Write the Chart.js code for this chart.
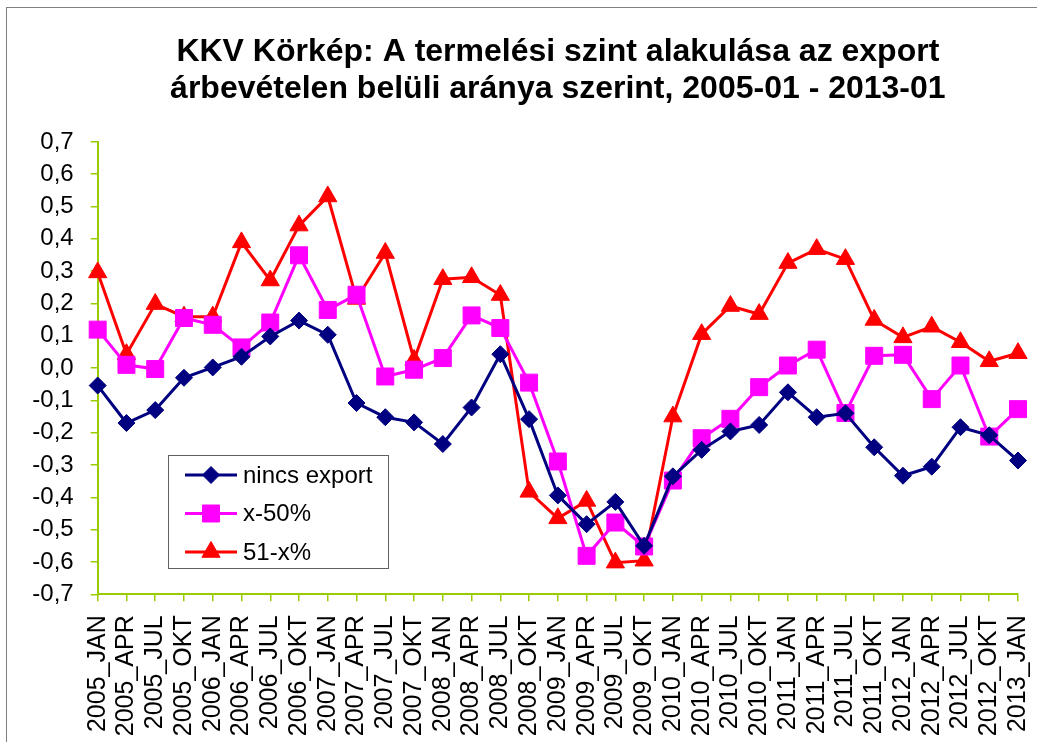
<!DOCTYPE html>
<html>
<head>
<meta charset="utf-8">
<script src="https://cdn.jsdelivr.net/npm/chart.js@4/dist/chart.umd.min.js"></script>
<style>
    html, body { margin: 0; padding: 0; background: #fff; }
    #wrap { position: relative; width: 1037px; height: 742px; }
</style>
</head>
<body>
<div id="wrap"><canvas id="kkvChart" width="1037" height="742"></canvas></div>
<script>
const categories = [
    '2005_JAN', '2005_APR', '2005_JUL', '2005_OKT',
    '2006_JAN', '2006_APR', '2006_JUL', '2006_OKT',
    '2007_JAN', '2007_APR', '2007_JUL', '2007_OKT',
    '2008_JAN', '2008_APR', '2008_JUL', '2008_OKT',
    '2009_JAN', '2009_APR', '2009_JUL', '2009_OKT',
    '2010_JAN', '2010_APR', '2010_JUL', '2010_OKT',
    '2011_JAN', '2011_APR', '2011_JUL', '2011_OKT',
    '2012_JAN', '2012_APR', '2012_JUL', '2012_OKT',
    '2013_JAN'
];

const ninccsExport = [
    -0.054, -0.170, -0.130, -0.030, 0.002, 0.035, 0.098, 0.147,
    0.103, -0.108, -0.152, -0.168, -0.235, -0.122, 0.043, -0.158,
    -0.394, -0.483, -0.414, -0.550, -0.335, -0.253, -0.196, -0.176,
    -0.075, -0.152, -0.140, -0.245, -0.333, -0.305, -0.183, -0.208,
    -0.286
];

const upTo50 = [
    0.119, 0.010, -0.003, 0.155, 0.134, 0.064, 0.141, 0.349,
    0.180, 0.227, -0.026, -0.005, 0.031, 0.163, 0.124, -0.045,
    -0.289, -0.581, -0.478, -0.552, -0.348, -0.217, -0.157, -0.059,
    0.008, 0.057, -0.139, 0.038, 0.041, -0.096, 0.008, -0.212,
    -0.127
];

const from51 = [
    0.296, 0.043, 0.198, 0.159, 0.159, 0.389, 0.271, 0.441,
    0.531, 0.214, 0.356, 0.025, 0.275, 0.281, 0.226, -0.383,
    -0.465, -0.411, -0.602, -0.596, -0.150, 0.105, 0.192, 0.167,
    0.325, 0.368, 0.337, 0.149, 0.095, 0.128, 0.080, 0.021,
    0.046
];

const titleLines = [
    'KKV Körkép: A termelési szint alakulása az export',
    'árbevételen belüli aránya szerint, 2005-01 - 2013-01'
];

const FONT = "'Liberation Sans', Arial, sans-serif";
const AXIS_COLOR = '#99cc00';

// outer frame of the chart object (only top and left edges are visible)
const framePlugin = {
    id: 'frame',
    beforeDraw(chart) {
        const ctx = chart.ctx;
        ctx.save();
        ctx.fillStyle = '#fff';
        ctx.fillRect(0, 0, chart.width, chart.height);
        ctx.strokeStyle = '#808080';
        ctx.lineWidth = 1;
        ctx.strokeRect(6.5, 7.5, chart.width + 50, chart.height + 50);
        ctx.restore();
    }
};

// legend box sitting inside the plot area
const boxLegend = {
    id: 'boxLegend',
    afterDraw(chart) {
        const ctx = chart.ctx;
        const box = { x: 168.5, y: 455.5, w: 220, h: 113 };
        ctx.save();
        ctx.fillStyle = '#fff';
        ctx.fillRect(box.x, box.y, box.w, box.h);
        ctx.strokeStyle = '#606060';
        ctx.lineWidth = 1;
        ctx.strokeRect(box.x, box.y, box.w, box.h);

        chart.data.datasets.forEach((ds, i) => {
            const y = 475 + i * 38.5;
            ctx.strokeStyle = ds.borderColor;
            ctx.lineWidth = ds.borderWidth;
            ctx.beginPath();
            ctx.moveTo(185, y);
            ctx.lineTo(237, y);
            ctx.stroke();
            ctx.fillStyle = ds.pointBackgroundColor;
            ctx.strokeStyle = ds.borderColor;
            ctx.lineWidth = 1;
            Chart.helpers.drawPoint(ctx, {
                pointStyle: ds.pointStyle,
                radius: ds.pointRadius,
                rotation: 0,
                borderWidth: 1
            }, 211, y);
            ctx.fillStyle = '#000';
            ctx.font = '24px ' + FONT;
            ctx.textBaseline = 'middle';
            ctx.textAlign = 'left';
            ctx.fillText(ds.label, 243, y + 1);
        });
        ctx.restore();
    }
};

new Chart(document.getElementById('kkvChart'), {
    type: 'line',
    data: {
        labels: categories,
        datasets: [{
            label: 'nincs export',
            data: ninccsExport,
            borderColor: '#000080',
            backgroundColor: '#000080',
            pointBackgroundColor: '#000080',
            borderWidth: 3,
            pointStyle: 'rectRot',
            pointRadius: 8.5,
            pointBorderWidth: 1,
            tension: 0
        }, {
            label: 'x-50%',
            data: upTo50,
            borderColor: '#ff00ff',
            backgroundColor: '#ff00ff',
            pointBackgroundColor: '#ff00ff',
            borderWidth: 3,
            pointStyle: 'rect',
            pointRadius: 12,
            pointBorderWidth: 1,
            tension: 0
        }, {
            label: '51-x%',
            data: from51,
            borderColor: '#ff0000',
            backgroundColor: '#ff0000',
            pointBackgroundColor: '#ff0000',
            borderWidth: 3,
            pointStyle: 'triangle',
            pointRadius: 10.5,
            pointBorderWidth: 1,
            tension: 0
        }]
    },
    options: {
        responsive: false,
        animation: false,
        devicePixelRatio: 1,
        layout: {
            padding: { top: 0, left: 0, right: 19, bottom: 0 }
        },
        plugins: {
            legend: { display: false },
            tooltip: { enabled: false },
            title: {
                display: true,
                fullSize: false,
                text: titleLines,
                color: '#000',
                font: { family: FONT, size: 32, weight: 'bold', lineHeight: 1.17 },
                padding: { top: 33, bottom: 34 }
            }
        },
        scales: {
            x: {
                type: 'category',
                offset: false,
                afterFit: (scale) => {
                    scale.height = 147.7;
                    scale.paddingRight = 0;
                    scale.paddingLeft = 0;
                },
                border: { display: true, color: AXIS_COLOR, width: 2 },
                grid: {
                    display: true,
                    drawOnChartArea: false,
                    drawTicks: true,
                    tickLength: 7,
                    color: AXIS_COLOR,
                    lineWidth: 1.5
                },
                ticks: {
                    autoSkip: false,
                    maxRotation: 90,
                    minRotation: 90,
                    padding: 14,
                    color: '#000',
                    font: { family: FONT, size: 25 }
                }
            },
            y: {
                min: -0.7,
                max: 0.7,
                afterFit: (scale) => { scale.width = 97.7; },
                border: { display: true, color: AXIS_COLOR, width: 2 },
                grid: {
                    display: true,
                    drawOnChartArea: false,
                    drawTicks: true,
                    tickLength: 7,
                    color: AXIS_COLOR,
                    lineWidth: 1.5
                },
                ticks: {
                    stepSize: 0.1,
                    padding: 17,
                    color: '#000',
                    font: { family: FONT, size: 24 },
                    callback: (value) => value.toFixed(1).replace('.', ',').replace('-0,0', '0,0')
                }
            }
        }
    },
    plugins: [framePlugin, boxLegend]
});
</script>
</body>
</html>
